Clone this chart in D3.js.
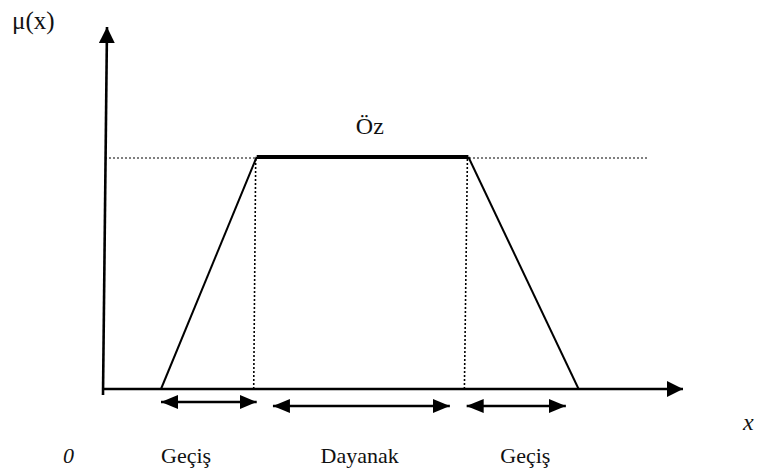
<!DOCTYPE html>
<html>
<head>
<meta charset="utf-8">
<script src="https://cdn.jsdelivr.net/npm/d3@7"></script>
<style>
  html, body { margin: 0; padding: 0; background: #fff; }
  svg { display: block; }
</style>
</head>
<body>
<svg id="chart" width="757" height="470"></svg>
<script>
// Trapezoidal membership function: corner points (x, μ)
const cornerX = [1.0, 2.65, 6.3, 8.2];
const cornerMu = [0, 1, 1, 0];

// Axis extents in data units
const xAxisMax = 10;
const yAxisMax = 1.56;
const guideEndX = 9.4;           // right end of the dotted μ = 1 guide

// Interval arrows under the x axis
const spanStart = [1.0, 2.93, 6.27];
const spanEnd   = [2.65, 5.98, 7.98];
const spanLabel = ["Geçiş", "Dayanak", "Geçiş"];
const spanLabelX = [1.0, 3.75, 6.85];

// Core label
const coreLabel = "Öz";
const coreLabelX = 4.6;

const serif = "'Liberation Serif', 'Times New Roman', Times, serif";

const svg = d3.select("#chart");

const x = d3.scaleLinear().domain([0, xAxisMax]).range([103, 683]);
const y = d3.scaleLinear().domain([0, 1]).range([389, 157]);

const ink = "#000";

// arrowhead markers
const defs = svg.append("defs");
function marker(id, w, h, orient) {
  defs.append("marker")
    .attr("id", id)
    .attr("viewBox", `0 0 ${w} ${h}`)
    .attr("refX", w).attr("refY", h / 2)
    .attr("markerWidth", w).attr("markerHeight", h)
    .attr("markerUnits", "userSpaceOnUse")
    .attr("orient", orient)
    .append("path")
    .attr("d", `M0,0L${w},${h / 2}L0,${h}Z`)
    .attr("fill", ink);
}
marker("axisHead", 16, 16, "auto");
marker("spanHead", 17, 14, "auto-start-reverse");

// dotted guide at μ = 1
svg.append("line")
  .attr("x1", x(0) + 2).attr("x2", x(guideEndX))
  .attr("y1", y(1) + 1).attr("y2", y(1) + 1)
  .attr("stroke", ink).attr("stroke-width", 1)
  .attr("stroke-dasharray", "2,2");

// dotted drop lines at the core edges
[cornerX[1], cornerX[2]].forEach((v, i) => {
  svg.append("line")
    .attr("x1", x(v) - 1).attr("x2", x(v) - 3 - i)
    .attr("y1", y(1) + 2).attr("y2", y(0))
    .attr("stroke", ink).attr("stroke-width", 1.6)
    .attr("stroke-dasharray", "2,2");
});

// axes
const lean = 4;
svg.append("line")
  .attr("x1", x(0)).attr("y1", y(0) + 6)
  .attr("x2", x(0) + lean).attr("y2", y(yAxisMax))
  .attr("stroke", ink).attr("stroke-width", 2.6)
  .attr("marker-end", "url(#axisHead)");

svg.append("line")
  .attr("x1", x(0)).attr("y1", y(0))
  .attr("x2", x(xAxisMax)).attr("y2", y(0))
  .attr("stroke", ink).attr("stroke-width", 2.6)
  .attr("marker-end", "url(#axisHead)");

// membership function sides
const pts = cornerX.map((v, i) => [v, cornerMu[i]]);
const line = d3.line().x(d => x(d[0])).y(d => y(d[1]));
svg.append("path")
  .attr("d", line([pts[0], pts[1]]))
  .attr("fill", "none").attr("stroke", ink).attr("stroke-width", 2);
svg.append("path")
  .attr("d", line([pts[2], pts[3]]))
  .attr("fill", "none").attr("stroke", ink).attr("stroke-width", 2);
// core (μ = 1) drawn heavy
svg.append("path")
  .attr("d", line([pts[1], pts[2]]))
  .attr("fill", "none").attr("stroke", ink).attr("stroke-width", 4);

// interval arrows
const spanY = [402, 406, 406];
spanStart.forEach((s, i) => {
  svg.append("line")
    .attr("x1", x(s)).attr("x2", x(spanEnd[i]))
    .attr("y1", spanY[i]).attr("y2", spanY[i])
    .attr("stroke", ink).attr("stroke-width", 2.4)
    .attr("marker-start", "url(#spanHead)")
    .attr("marker-end", "url(#spanHead)");
});

const label = (txt, px, py, size, italic, anchor) =>
  svg.append("text")
    .attr("x", px).attr("y", py)
    .attr("font-family", serif)
    .attr("font-size", size)
    .attr("font-style", italic ? "italic" : "normal")
    .attr("text-anchor", anchor || "start")
    .attr("fill", "#111")
    .text(txt);

spanLabel.forEach((t, i) => label(t, x(spanLabelX[i]), 463, 22));

label(coreLabel, x(coreLabelX), 134, 24, false, "middle");
label("μ(x)", 12, 29, 25);
label("0", 63, 463, 22, true);
label("x", 743, 430, 24, true);
</script>
</body>
</html>
